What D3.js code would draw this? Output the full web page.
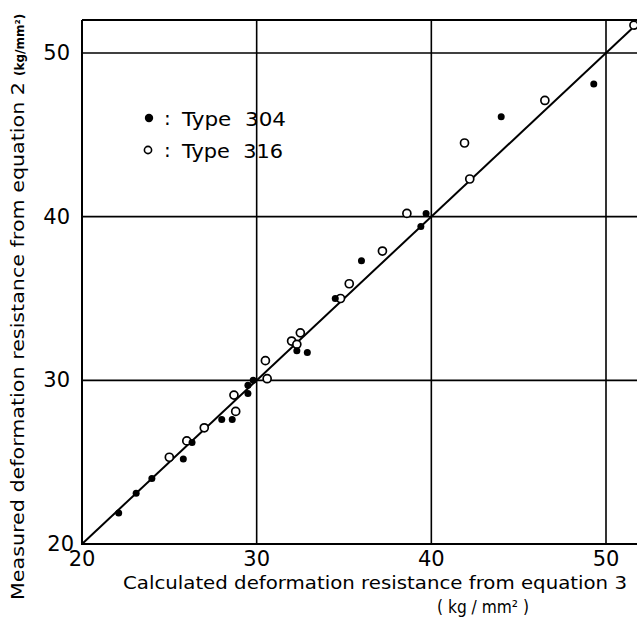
<!DOCTYPE html>
<html>
<head>
<meta charset="utf-8">
<script src="https://cdn.jsdelivr.net/npm/d3@7/dist/d3.min.js"></script>
<style>
  html, body { margin: 0; padding: 0; background: #fff; }
  svg { display: block; }
  text { font-family: "DejaVu Sans", sans-serif; fill: #000; white-space: pre; }
</style>
</head>
<body>
<svg id="chart" width="637" height="624"></svg>
<script>
// Type 304: calculated (eq. 3) vs measured (eq. 2) deformation resistance, kg/mm²
const type304Calc = [22.1, 23.1, 24.0, 25.8, 26.3, 28.0, 28.6, 29.5, 29.5, 29.8, 32.3, 32.9, 34.5, 36.0, 39.4, 39.7, 44.0, 49.3];
const type304Meas = [21.9, 23.1, 24.0, 25.2, 26.2, 27.6, 27.6, 29.2, 29.7, 30.0, 31.8, 31.7, 35.0, 37.3, 39.4, 40.2, 46.1, 48.1];

// Type 316
const type316Calc = [25.0, 26.0, 27.0, 28.7, 28.8, 30.5, 30.6, 32.0, 32.3, 32.5, 34.8, 35.3, 37.2, 38.6, 41.9, 42.2, 46.5, 51.6];
const type316Meas = [25.3, 26.3, 27.1, 29.1, 28.1, 31.2, 30.1, 32.4, 32.2, 32.9, 35.0, 35.9, 37.9, 40.2, 44.5, 42.3, 47.1, 51.7];

const xTicks = [20, 30, 40, 50];
const yTicks = [20, 30, 40, 50];
const gridValues = [30, 40, 50];
const lineEnds = [20, 52];

const svg = d3.select("#chart");

const x = d3.scaleLinear().domain([20, 50]).range([82, 606]);
const y = d3.scaleLinear().domain([20, 50]).range([544, 53]);
const xMax = x.invert(640);
const yMax = y.invert(20);

// frame: left, top, bottom
const frame = svg.append("g").attr("stroke", "#000").attr("fill", "none");
frame.append("line").attr("x1", x(20)).attr("x2", x(20)).attr("y1", y(20) + 1).attr("y2", y(yMax)).attr("stroke-width", 2);
frame.append("line").attr("x1", x(20)).attr("x2", x(xMax)).attr("y1", y(yMax)).attr("y2", y(yMax)).attr("stroke-width", 2);
frame.append("line").attr("x1", x(20)).attr("x2", x(xMax)).attr("y1", y(20)).attr("y2", y(20)).attr("stroke-width", 2.2);

// grid lines
const grid = svg.append("g").attr("stroke", "#000").attr("stroke-width", 1.6);
grid.selectAll(".gx").data(gridValues).join("line")
  .attr("x1", d => x(d)).attr("x2", d => x(d))
  .attr("y1", y(20)).attr("y2", y(yMax));
grid.selectAll(".gy").data(gridValues).join("line")
  .attr("x1", x(20)).attr("x2", x(xMax))
  .attr("y1", d => y(d)).attr("y2", d => y(d));

// tick labels
svg.append("g").selectAll("text").data(xTicks).join("text")
  .attr("x", d => x(d)).attr("y", y(20) + 22)
  .attr("text-anchor", "middle").attr("font-size", 21)
  .text(d => d);
svg.append("g").selectAll("text").data(yTicks).join("text")
  .attr("x", d => d === 20 ? 74 : 70).attr("y", d => y(d) + 7)
  .attr("text-anchor", "end").attr("font-size", 21)
  .text(d => d);

// y = x reference line
svg.append("line")
  .attr("x1", x(lineEnds[0])).attr("y1", y(lineEnds[0]))
  .attr("x2", x(lineEnds[1])).attr("y2", y(lineEnds[1]))
  .attr("stroke", "#000").attr("stroke-width", 2);

// markers
const pts304 = type304Calc.map((c, i) => [c, type304Meas[i]]);
const pts316 = type316Calc.map((c, i) => [c, type316Meas[i]]);

svg.append("g").selectAll("circle").data(pts316).join("circle")
  .attr("cx", d => x(d[0])).attr("cy", d => y(d[1])).attr("r", 4)
  .attr("fill", "#fff").attr("stroke", "#000").attr("stroke-width", 1.7);
svg.append("g").selectAll("circle").data(pts304).join("circle")
  .attr("cx", d => x(d[0])).attr("cy", d => y(d[1])).attr("r", 3.5)
  .attr("fill", "#000");

// legend
const legend = svg.append("g");
legend.append("circle").attr("cx", 149).attr("cy", 118).attr("r", 4.2).attr("fill", "#000");
legend.append("text").attr("x", 164).attr("y", 125).attr("font-size", 20).text(":");
legend.append("text").attr("x", 182).attr("y", 126).attr("font-size", 20)
  .attr("textLength", 104).attr("lengthAdjust", "spacingAndGlyphs").text("Type  304");
legend.append("circle").attr("cx", 148).attr("cy", 150).attr("r", 3.6)
  .attr("fill", "#fff").attr("stroke", "#000").attr("stroke-width", 1.6);
legend.append("text").attr("x", 164).attr("y", 157).attr("font-size", 20).text(":");
legend.append("text").attr("x", 182).attr("y", 158).attr("font-size", 20)
  .attr("textLength", 101).attr("lengthAdjust", "spacingAndGlyphs").text("Type  316");

// axis titles
svg.append("text")
  .attr("x", 123).attr("y", 589).attr("font-size", 17)
  .attr("textLength", 504).attr("lengthAdjust", "spacingAndGlyphs")
  .text("Calculated deformation resistance from equation 3");
svg.append("text")
  .attr("x", 437).attr("y", 613).attr("font-size", 17)
  .attr("textLength", 92).attr("lengthAdjust", "spacingAndGlyphs")
  .text("( kg / mm² )");

const yTitle = svg.append("text")
  .attr("transform", "translate(24,600) rotate(-90)")
  .attr("font-size", 17);
yTitle.append("tspan")
  .attr("textLength", 518).attr("lengthAdjust", "spacingAndGlyphs")
  .text("Measured deformation resistance from equation 2");
yTitle.append("tspan")
  .attr("dx", 6).attr("font-size", 12).attr("font-weight", "bold")
  .text("(kg/mm²)");
</script>
</body>
</html>
